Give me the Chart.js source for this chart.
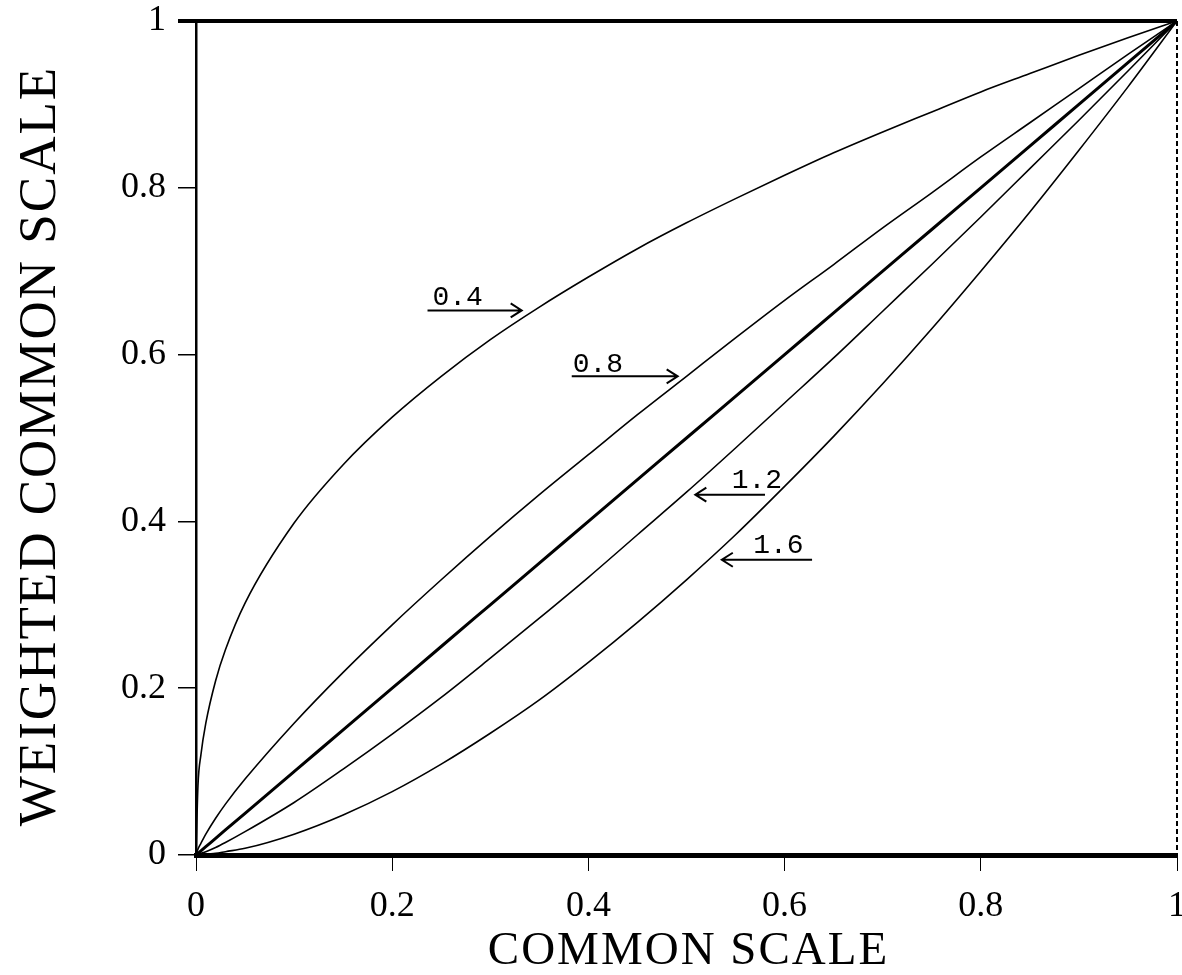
<!DOCTYPE html>
<html>
<head>
<meta charset="utf-8">
<script src="https://cdn.jsdelivr.net/npm/chart.js@4/dist/chart.umd.min.js"></script>
<style>
  body { margin: 0; background: #fff; }
  #wrap { width: 1182px; height: 975px; }
</style>
</head>
<body>
<div id="wrap"><canvas id="myChart" width="1182" height="975"></canvas></div>
<script>
// values (common scale -> weighted common scale)
const xValues = [0, 0.002, 0.005, 0.01, 0.02, 0.03, 0.05, 0.1, 0.15, 0.2, 0.25, 0.3, 0.35, 0.4, 0.45, 0.5, 0.55, 0.6, 0.65, 0.7, 0.75, 0.8, 0.85, 0.9, 0.95, 1];
const curve04 = [0, 0.083, 0.120, 0.158, 0.209, 0.246, 0.302, 0.398, 0.468, 0.525, 0.574, 0.618, 0.657, 0.693, 0.727, 0.758, 0.787, 0.815, 0.842, 0.867, 0.891, 0.915, 0.937, 0.959, 0.980, 1];
const curve08 = [0, 0.007, 0.014, 0.025, 0.044, 0.061, 0.091, 0.158, 0.219, 0.276, 0.330, 0.382, 0.432, 0.480, 0.528, 0.574, 0.620, 0.665, 0.708, 0.752, 0.794, 0.837, 0.878, 0.919, 0.960, 1];
const curve10 = [0, 0.002, 0.005, 0.01, 0.02, 0.03, 0.05, 0.1, 0.15, 0.2, 0.25, 0.3, 0.35, 0.4, 0.45, 0.5, 0.55, 0.6, 0.65, 0.7, 0.75, 0.8, 0.85, 0.9, 0.95, 1];
const curve12 = [0, 0.001, 0.002, 0.004, 0.009, 0.015, 0.028, 0.063, 0.103, 0.145, 0.189, 0.236, 0.284, 0.333, 0.384, 0.435, 0.488, 0.542, 0.596, 0.652, 0.708, 0.765, 0.823, 0.881, 0.940, 1];
const curve16 = [0, 0, 0, 0.001, 0.002, 0.004, 0.008, 0.025, 0.048, 0.076, 0.109, 0.146, 0.186, 0.231, 0.279, 0.330, 0.384, 0.442, 0.502, 0.565, 0.631, 0.700, 0.771, 0.845, 0.921, 1];
const seriesNames = ['0.4', '0.8', '1.0', '1.2', '1.6'];
const xTickLabels = ['0', '0.2', '0.4', '0.6', '0.8', '1'];
const yTickLabels = ['0', '0.2', '0.4', '0.6', '0.8', '1'];
const xTitle = 'COMMON SCALE';
const yTitle = 'WEIGHTED COMMON SCALE';

// curve labels with arrows, in data units: [label, textX, textY, arrowFromX, arrowToX, arrowY]
const curveNotes = [
  ['0.4', 0.241, 0.659, 0.236, 0.332, 0.653],
  ['0.8', 0.384, 0.579, 0.383, 0.491, 0.574],
  ['1.2', 0.546, 0.440, 0.580, 0.509, 0.432],
  ['1.6', 0.568, 0.362, 0.628, 0.536, 0.354]
];

const allCurves = [curve04, curve08, curve10, curve12, curve16];
const datasets = allCurves.map((ys, i) => ({
  label: seriesNames[i],
  data: xValues.map((x, j) => ({x: x, y: ys[j]})),
  showLine: true,
  borderColor: '#000',
  borderWidth: seriesNames[i] === '1.0' ? 3 : 1.6,
  pointRadius: 0,
  cubicInterpolationMode: 'monotone',
  fill: false
}));

const decorations = {
  id: 'decorations',
  afterDraw(chart) {
    const ctx = chart.ctx;
    const area = chart.chartArea;
    const xs = chart.scales.x;
    const ys = chart.scales.y;
    ctx.save();
    ctx.strokeStyle = '#000';
    ctx.fillStyle = '#000';

    // top frame line (thick) and dotted right edge
    ctx.lineWidth = 4;
    ctx.beginPath();
    ctx.moveTo(area.left - 18, area.top);
    ctx.lineTo(area.right, area.top);
    ctx.stroke();
    ctx.lineWidth = 2;
    ctx.setLineDash([5, 3]);
    ctx.beginPath();
    ctx.moveTo(area.right, area.top);
    ctx.lineTo(area.right, area.bottom);
    ctx.stroke();
    ctx.setLineDash([]);

    // axis titles
    ctx.textAlign = 'center';
    ctx.textBaseline = 'alphabetic';
    ctx.font = '47px "Liberation Serif"';
    ctx.letterSpacing = '2px';
    ctx.fillText(xTitle, (area.left + area.right) / 2 + 2, 964);
    ctx.save();
    ctx.translate(55, 446);
    ctx.rotate(-Math.PI / 2);
    ctx.font = '53px "Liberation Serif"';
    ctx.letterSpacing = '2px';
    ctx.fillText(yTitle, 0, 0);
    ctx.restore();
    ctx.letterSpacing = '0px';

    // curve labels
    ctx.font = '28px "Liberation Mono"';
    ctx.textAlign = 'left';
    ctx.lineWidth = 2;
    curveNotes.forEach(n => {
      ctx.fillText(n[0], xs.getPixelForValue(n[1]), ys.getPixelForValue(n[2]));
      const x0 = xs.getPixelForValue(n[3]);
      const x1 = xs.getPixelForValue(n[4]);
      const y = ys.getPixelForValue(n[5]);
      const dir = x1 > x0 ? 1 : -1;
      ctx.beginPath();
      ctx.moveTo(x0, y);
      ctx.lineTo(x1, y);
      ctx.moveTo(x1 - dir * 11, y - 7);
      ctx.lineTo(x1, y);
      ctx.lineTo(x1 - dir * 11, y + 7);
      ctx.stroke();
    });
    ctx.restore();
  }
};

Chart.defaults.font.family = '"Liberation Serif"';
Chart.defaults.color = '#000';

new Chart('myChart', {
  type: 'scatter',
  data: {datasets: datasets},
  options: {
    responsive: false,
    animation: false,
    layout: {padding: {top: 21, right: 5, left: 0, bottom: 0}},
    plugins: {legend: {display: false}, tooltip: {enabled: false}},
    scales: {
      x: {
        type: 'linear',
        min: 0,
        max: 1,
        afterFit: s => { s.height = 120; s.paddingLeft = 0; s.paddingRight = 0; },
        border: {display: true, color: '#000', width: 5},
        grid: {drawOnChartArea: false, drawTicks: true, tickLength: 16, color: '#000', lineWidth: 1},
        ticks: {
          stepSize: 0.2,
          maxRotation: 0,
          autoSkip: false,
          padding: 14,
          font: {size: 36},
          callback: (v, i) => xTickLabels[i]
        }
      },
      y: {
        type: 'linear',
        min: 0,
        max: 1,
        afterFit: s => { s.width = 196; s.paddingTop = 0; s.paddingBottom = 0; },
        border: {display: true, color: '#000', width: 2.5},
        grid: {drawOnChartArea: false, drawTicks: true, tickLength: 18, color: '#000', lineWidth: 1.5},
        ticks: {
          stepSize: 0.2,
          autoSkip: false,
          padding: 12,
          font: {size: 36},
          callback: (v, i) => yTickLabels[i]
        }
      }
    }
  },
  plugins: [decorations]
});
</script>
</body>
</html>
